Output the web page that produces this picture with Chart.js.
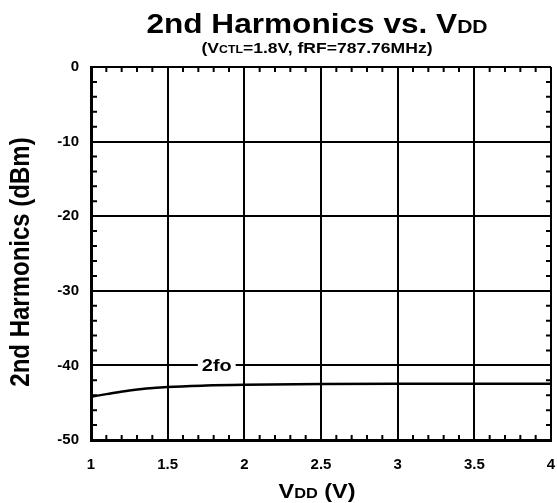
<!DOCTYPE html>
<html>
<head>
<meta charset="utf-8">
<script src="https://cdn.jsdelivr.net/npm/chart.js@4.4.1/dist/chart.umd.min.js"></script>
<style>
  html, body { margin: 0; padding: 0; background: #fff; overflow: hidden; }
  #wrap { width: 557px; height: 503px; position: relative; overflow: hidden; }
  #chart { display: block; }
</style>
</head>
<body>
<div id="wrap"><canvas id="chart"></canvas></div>
<script>
// data
const vdd = [1, 1.1, 1.25, 1.5, 1.75, 2, 2.5, 3, 3.5, 4];
const harm2 = [-44.2, -43.85, -43.35, -42.9, -42.7, -42.6, -42.5, -42.45, -42.45, -42.45];
const seriesName = '2fo';
const seriesLabelAt = [1.82, -40];

const xMin = 1, xMax = 4, xStep = 0.5, xMinor = 0.1;
const yMin = -50, yMax = 0, yStep = 10, yMinor = 2;

const FONT = '"Liberation Sans", Arial, Helvetica, sans-serif';
const STRETCH = 1.17; // the reference is a bit wider than tall

Chart.defaults.font.family = FONT;
Chart.defaults.color = '#000';

// draw a run of text pieces (different sizes, shared baseline)
function drawParts(ctx, parts, cx, cy, rotate) {
  ctx.save();
  let w = 0;
  parts.forEach(p => { ctx.font = 'bold ' + p.size + 'px ' + FONT; p.w = ctx.measureText(p.t).width; w += p.w; });
  ctx.translate(cx, cy);
  ctx.scale(STRETCH, 1);
  if (rotate) ctx.rotate(-Math.PI / 2);
  ctx.fillStyle = '#000';
  ctx.textBaseline = 'alphabetic';
  ctx.textAlign = 'left';
  let x = -w / 2;
  parts.forEach(p => {
    ctx.font = 'bold ' + p.size + 'px ' + FONT;
    ctx.fillText(p.t, x, 0);
    x += p.w;
  });
  ctx.restore();
}

const decorations = {
  id: 'decorations',
  afterDatasetsDraw(chart) {
    const ctx = chart.ctx;
    const a = chart.chartArea;
    const xs = chart.scales.x, ys = chart.scales.y;

    // minor ticks, pointing inwards
    ctx.save();
    ctx.strokeStyle = '#000';
    ctx.lineWidth = 2;
    ctx.beginPath();
    const nx = Math.round((xMax - xMin) / xMinor);
    for (let i = 1; i < nx; i++) {
      if (i % Math.round(xStep / xMinor) === 0) continue;
      const px = xs.getPixelForValue(xMin + i * xMinor);
      ctx.moveTo(px, a.bottom); ctx.lineTo(px, a.bottom - 5);
      ctx.moveTo(px, a.top); ctx.lineTo(px, a.top + 5);
    }
    const ny = Math.round((yMax - yMin) / yMinor);
    for (let i = 1; i < ny; i++) {
      if (i % Math.round(yStep / yMinor) === 0) continue;
      const py = ys.getPixelForValue(yMin + i * yMinor);
      ctx.moveTo(a.left, py); ctx.lineTo(a.left + 6, py);
      ctx.moveTo(a.right, py); ctx.lineTo(a.right - 5, py);
    }
    ctx.stroke();

    // series label on a white patch
    const lx = xs.getPixelForValue(seriesLabelAt[0]);
    const ly = ys.getPixelForValue(seriesLabelAt[1]);
    ctx.font = 'bold 17px ' + FONT;
    const lw = ctx.measureText(seriesName).width * STRETCH;
    ctx.fillStyle = '#fff';
    ctx.fillRect(lx - lw / 2 - 4, ly - 3, lw + 8, 6);
    ctx.restore();
    drawParts(ctx, [{ t: seriesName, size: 17 }], lx, ly + 6, false);

    // titles
    drawParts(ctx, [{ t: '2nd Harmonics vs. V', size: 27 }, { t: 'DD', size: 18 }], 317, 33, false);
    drawParts(ctx, [{ t: '(V', size: 15 }, { t: 'CTL', size: 10.5 }, { t: '=1.8V, fRF=787.76MHz)', size: 15 }], 317, 53, false);
    drawParts(ctx, [{ t: 'V', size: 20 }, { t: 'DD', size: 14 }, { t: ' (V)', size: 20 }], 317, 498, false);
    drawParts(ctx, [{ t: '2nd Harmonics (dBm)', size: 24 }], 29, 262, true);
  }
};

new Chart(document.getElementById('chart'), {
  type: 'line',
  data: {
    datasets: [{
      label: seriesName,
      data: vdd.map((v, i) => ({ x: v, y: harm2[i] })),
      borderColor: '#000',
      borderWidth: 2.5,
      pointRadius: 0,
      cubicInterpolationMode: 'monotone',
      fill: false
    }]
  },
  options: {
    responsive: true,
    maintainAspectRatio: false,
    animation: false,
    layout: { padding: { top: 67, right: 6, left: 0, bottom: 0 } },
    plugins: { legend: { display: false }, tooltip: { enabled: false } },
    scales: {
      x: {
        type: 'linear', min: xMin, max: xMax,
        afterFit(s) { s.height = 63; s.paddingLeft = 0; s.paddingRight = 0; },
        ticks: {
          stepSize: xStep, padding: 16, color: '#000',
          font: { size: 15, weight: 'bold' },
          callback: v => String(+v.toFixed(1))
        },
        grid: { color: '#000', lineWidth: 2, drawTicks: false },
        border: { display: true, color: '#000', width: 3 }
      },
      y: {
        min: yMin, max: yMax,
        afterFit(s) { s.width = 91; s.paddingTop = 0; s.paddingBottom = 0; },
        ticks: {
          stepSize: yStep, padding: 12, color: '#000',
          font: { size: 15, weight: 'bold' }
        },
        grid: { color: '#000', lineWidth: 2, drawTicks: false },
        border: { display: true, color: '#000', width: 3 }
      }
    }
  },
  plugins: [decorations]
});
</script>
</body>
</html>
